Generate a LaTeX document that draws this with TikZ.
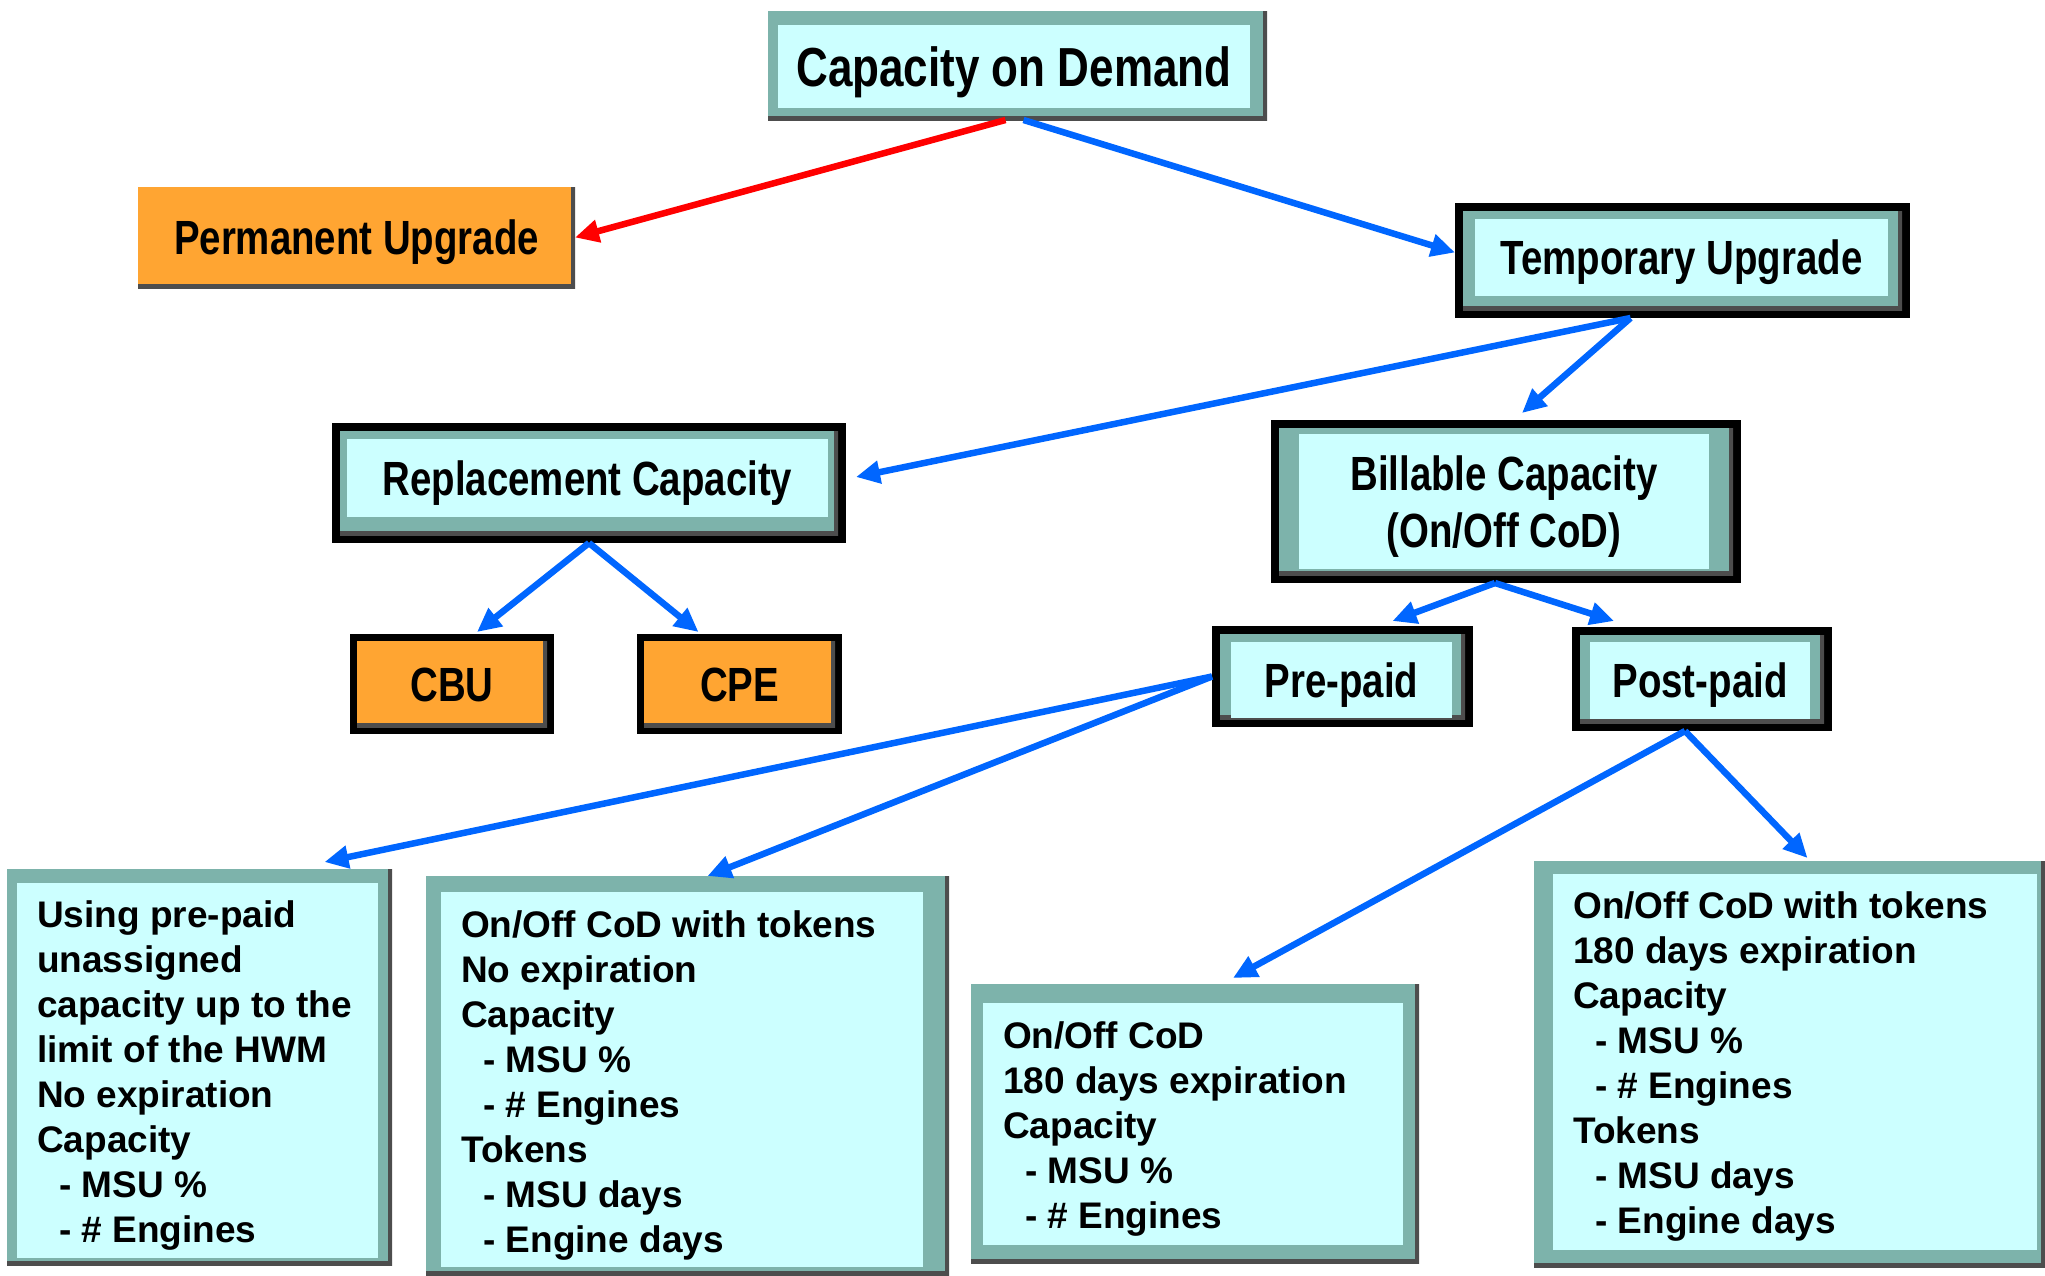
\documentclass[tikz,border=0pt]{standalone}
\usepackage{fontspec}
\setmainfont{Liberation Sans}
\newfontfamily\titlefont{Liberation Sans}[FakeStretch=0.8]
\usetikzlibrary{arrows.meta}
\definecolor{codteal}{HTML}{7DB3AB}
\definecolor{codcyan}{HTML}{CCFFFF}
\definecolor{codorange}{HTML}{FFA532}
\definecolor{codblue}{HTML}{0066FF}
\definecolor{codred}{HTML}{FF0000}
\definecolor{shadegray}{HTML}{4D4D4D}
\newcommand{\itemdash}{\hspace*{22pt}- }

\begin{document}
\begin{tikzpicture}[x=1pt,y=-1pt,
  frame/.style={fill=codteal,inner sep=0pt,outer sep=0pt,
    path picture={\draw[shadegray,line width=9pt] (path picture bounding box.north east) -- (path picture bounding box.south east) -- (path picture bounding box.south west);}},
  bordered/.style={preaction={draw=black,line width=2*#1},outer sep=#1},
  panel/.style={fill=codcyan,inner sep=0pt},
  title/.style={font=\titlefont\bfseries\fontsize{48}{57}\selectfont},
  capline/.style={text height=34pt,text depth=0pt},
  notes/.style={anchor=base west,inner sep=0pt,font=\bfseries\fontsize{37}{45}\selectfont},
  link/.style={draw=codblue,line width=6.5pt,-{Triangle[length=24pt,width=22pt]}}]
\useasboundingbox (0,0) rectangle (2045,1275);

% upper level
\path (1017.5,65.5) node (cod) [frame,minimum width=499,minimum height=109] {};
\path (1014,66.5) node (codp) [panel,minimum width=472,minimum height=83,title,capline,font=\titlefont\bfseries\fontsize{55}{66}\selectfont,text height=39pt] {Capacity on Demand};
\path (356.5,237.5) node (perm) [frame,fill=codorange,minimum width=437,minimum height=101,title,capline] {Permanent Upgrade};
\path (1682.5,260.5) node (temp) [frame,bordered=8pt,minimum width=439,minimum height=99] {};
\path (1681.5,257.5) node (tempp) [panel,minimum width=413,minimum height=77,title,capline] {Temporary Upgrade};

% middle level
\path (589,483) node (repl) [frame,bordered=8pt,minimum width=498,minimum height=104] {};
\path (587.5,478) node (replp) [panel,minimum width=481,minimum height=78,title,capline] {Replacement Capacity};
\path (452,684) node (cbu) [frame,fill=codorange,bordered=7pt,minimum width=190,minimum height=86,title,capline] {CBU};
\path (739.5,684) node (cpe) [frame,fill=codorange,bordered=7pt,minimum width=191,minimum height=86,title,capline] {CPE};
\path (1506,501.5) node (bill) [frame,bordered=8pt,minimum width=454,minimum height=147] {};
\path (1504,501.5) node (billp) [panel,minimum width=410,minimum height=135] {};
\path (1504,507) node (billtext) [title,align=center,inner sep=0pt] {Billable Capacity\\(On/Off CoD)};
\path (1342.5,676.5) node (pre) [frame,bordered=8pt,minimum width=245,minimum height=85] {};
\path (1341.5,680) node (prep) [panel,minimum width=221,minimum height=76,title,capline] {Pre-paid};
\path (1702,679) node (post) [frame,bordered=8pt,minimum width=244,minimum height=88] {};
\path (1700,680.5) node (postp) [panel,minimum width=220,minimum height=77,title,capline] {Post-paid};

% lower level
\path (199.5,1067) node (prehwm) [frame,minimum width=385,minimum height=396] {};
\path (197.5,1070.5) node (prehwmp) [panel,minimum width=361,minimum height=375] {};
\path (37,927) node (prehwmtext) [notes] {\begin{tabular}[t]{@{}l@{}}
Using pre-paid\\ unassigned\\ capacity up to the\\ limit of the HWM\\ No expiration\\ Capacity\\
\itemdash MSU \%\\ \itemdash \# Engines\end{tabular}};
\path (687.5,1075.5) node (pretok) [frame,minimum width=523,minimum height=399] {};
\path (682,1079.5) node (pretokp) [panel,minimum width=482,minimum height=375] {};
\path (461,937) node (pretoktext) [notes] {\begin{tabular}[t]{@{}l@{}}
On/Off CoD with tokens\\ No expiration\\ Capacity\\ \itemdash MSU \%\\ \itemdash \# Engines\\
Tokens\\ \itemdash MSU days\\ \itemdash Engine days\end{tabular}};
\path (1195,1123.5) node (postcod) [frame,minimum width=448,minimum height=279] {};
\path (1193,1124) node (postcodp) [panel,minimum width=420,minimum height=242] {};
\path (1003,1048) node (postcodtext) [notes] {\begin{tabular}[t]{@{}l@{}}
On/Off CoD\\ 180 days expiration\\ Capacity\\ \itemdash MSU \%\\ \itemdash \# Engines\end{tabular}};
\path (1789.5,1064) node (posttok) [frame,minimum width=511,minimum height=406] {};
\path (1795,1062) node (posttokp) [panel,minimum width=484,minimum height=376] {};
\path (1573,918) node (posttoktext) [notes] {\begin{tabular}[t]{@{}l@{}}
On/Off CoD with tokens\\ 180 days expiration\\ Capacity\\ \itemdash MSU \%\\ \itemdash \# Engines\\
Tokens\\ \itemdash MSU days\\ \itemdash Engine days\end{tabular}};

% connectors
\draw [link,draw=codred] ([xshift=-12pt]cod.south) to (perm.east);
\draw [link] ([xshift=6pt]cod.south) to ([yshift=8pt]temp.west);
\draw [link] ([xshift=-52pt]temp.south) to ([xshift=10pt,yshift=6pt]repl.east);
\draw [link] ([xshift=-52pt]temp.south) to ([xshift=16pt,yshift=7pt]bill.north);
\draw [link] (repl.south) to ([xshift=25pt,yshift=2pt]cbu.north);
\draw [link] (repl.south) to ([xshift=-41pt,yshift=2pt]cpe.north);
\draw [link] ([xshift=-11pt]bill.south) to ([xshift=50pt,yshift=5pt]pre.north);
\draw [link] ([xshift=-11pt]bill.south) to ([xshift=-88pt,yshift=6pt]post.north);
\draw [link] (pre.west) to ([xshift=125pt,yshift=7pt]prehwm.north);
\draw [link] (pre.west) to ([xshift=20pt]pretok.north);
\draw [link] ([xshift=-17pt]post.south) to ([xshift=38pt,yshift=6pt]postcod.north);
\draw [link] ([xshift=-17pt]post.south) to ([xshift=18pt,yshift=3pt]posttok.north);
\end{tikzpicture}
\end{document}
